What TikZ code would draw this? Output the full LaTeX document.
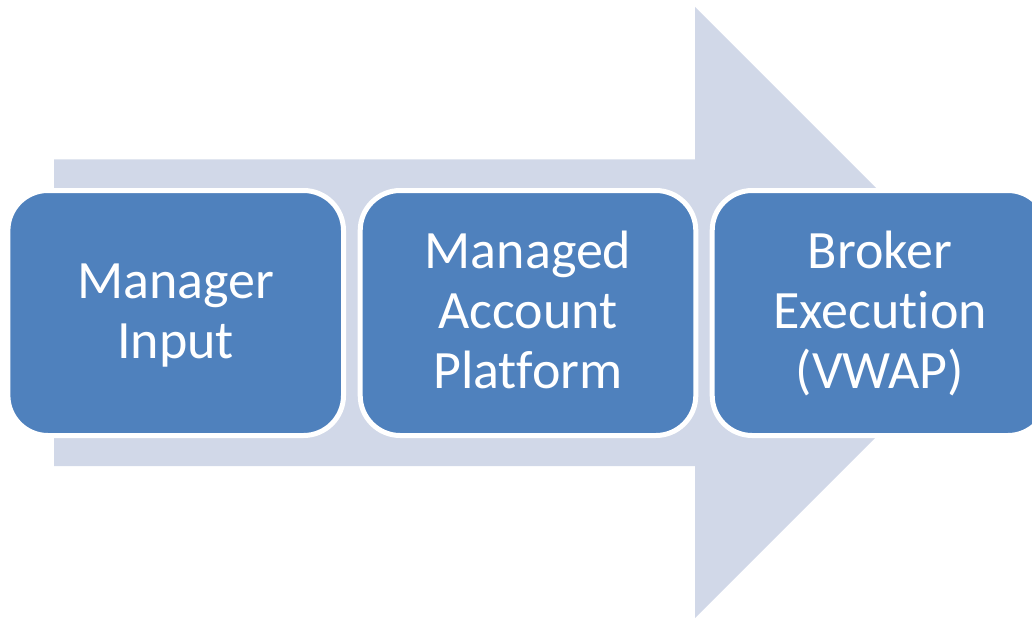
\documentclass[tikz,border=0pt]{standalone}
\usepackage{fontspec}
\setmainfont{Carlito}[Ligatures=CommonOff]
\definecolor{arrowbg}{HTML}{D1D8E8}
\definecolor{stagefill}{HTML}{4F81BD}
\newcommand\stagestrut{\rule[-15pt]{0pt}{60pt}}
\tikzset{stage/.style={draw=white,line width=5pt,fill=stagefill,rounded corners=40pt,
    minimum width=335.6pt,minimum height=245pt,text=white,align=center,
    font=\fontsize{54}{60}\selectfont}}

\begin{document}
\begin{tikzpicture}[x=1pt,y=-1pt]
	    \useasboundingbox (0,0) rectangle (1032,618);
	    \clip (0,0) rectangle (1032,618);
	    \fill[arrowbg] (54,159.3) -- (695,159.3) -- (695,7) -- (1000.5,312.5)
		-- (695,618) -- (695,466) -- (54,466) -- cycle;
	    \node[stage] (manager) at (175.7,313) {\stagestrut Manager\\Input\stagestrut};
	    \node[stage] (platform) at (528,313) {\stagestrut Managed\\Account\\Platform\stagestrut};
	    \node[stage] (broker) at (880,313) {\stagestrut Broker\\Execution\\(VWAP)\stagestrut};
        \end{tikzpicture}
\end{document}
